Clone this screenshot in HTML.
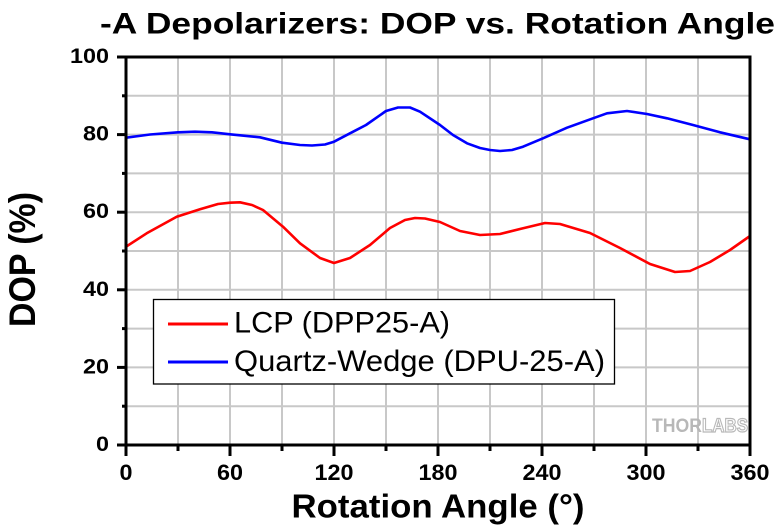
<!DOCTYPE html>
<html>
<head>
<meta charset="utf-8">
<style>
html,body{margin:0;padding:0;background:#fff;}
svg{display:block;}
text{font-family:"Liberation Sans",Arial,sans-serif;}
</style>
</head>
<body>
<svg width="780" height="528" viewBox="0 0 780 528" xmlns="http://www.w3.org/2000/svg">
<rect width="780" height="528" fill="#fff"/>
<!-- grid -->
<g stroke="#c8c8c8" stroke-width="2">
<line x1="178" y1="57" x2="178" y2="445"/>
<line x1="230" y1="57" x2="230" y2="445"/>
<line x1="282" y1="57" x2="282" y2="445"/>
<line x1="334" y1="57" x2="334" y2="445"/>
<line x1="386" y1="57" x2="386" y2="445"/>
<line x1="438" y1="57" x2="438" y2="445"/>
<line x1="490" y1="57" x2="490" y2="445"/>
<line x1="542" y1="57" x2="542" y2="445"/>
<line x1="594" y1="57" x2="594" y2="445"/>
<line x1="646" y1="57" x2="646" y2="445"/>
<line x1="698" y1="57" x2="698" y2="445"/>
<line x1="126" y1="95.8" x2="750" y2="95.8"/>
<line x1="126" y1="134.6" x2="750" y2="134.6"/>
<line x1="126" y1="173.4" x2="750" y2="173.4"/>
<line x1="126" y1="212.2" x2="750" y2="212.2"/>
<line x1="126" y1="251" x2="750" y2="251"/>
<line x1="126" y1="289.8" x2="750" y2="289.8"/>
<line x1="126" y1="328.6" x2="750" y2="328.6"/>
<line x1="126" y1="367.4" x2="750" y2="367.4"/>
<line x1="126" y1="406.2" x2="750" y2="406.2"/>
</g>
<!-- THORLABS logo -->
<text x="652" y="432" font-size="19" font-weight="bold" fill="#b8b8b8" textLength="50" lengthAdjust="spacingAndGlyphs">THOR</text>
<text x="702" y="432" font-size="19" font-weight="bold" fill="#fff" stroke="#b8b8b8" stroke-width="1.2" textLength="46" lengthAdjust="spacingAndGlyphs">LABS</text>
<!-- series -->
<polyline fill="none" stroke="#0000ff" stroke-width="2.6" stroke-linejoin="round" stroke-linecap="round"
points="126,137.7 150,134.5 178,132.3 195,131.7 212,132.3 230,134.3 260,137.3 282,142.7 300,145 312,145.5 325,144.5 334,141.7 350,133.3 366,125 386,111 398,107.5 410,107.5 420,111.7 440,125 453,135 467,143.3 480,148 490,150 500,151 512,150 523,146.7 543,138.3 567,127.7 593,118.3 607,113.3 627,111 647,114 667,118.3 693,125 720,132.3 750,139.3"/>
<polyline fill="none" stroke="#ff0000" stroke-width="2.6" stroke-linejoin="round" stroke-linecap="round"
points="126,246.7 146.7,233.3 176.7,216.7 200,209.3 218,204 230,202.7 240,202.3 252,205 263,210 283,226.7 300,243.3 320,258 334,263 350,258 370,245 390,228 405,220 415,218 425,218.5 440,222 460,231 480,235 500,234 520,229 545,223 560,224 590,233 620,248 650,264 675,272 690,271 710,262 730,250 750,236"/>
<!-- frame -->
<rect x="126" y="57" width="624" height="388" fill="none" stroke="#000" stroke-width="3"/>
<!-- y ticks -->
<g stroke="#000" stroke-width="3">
<line x1="117" y1="57" x2="126" y2="57"/>
<line x1="117" y1="134.6" x2="126" y2="134.6"/>
<line x1="117" y1="212.2" x2="126" y2="212.2"/>
<line x1="117" y1="289.8" x2="126" y2="289.8"/>
<line x1="117" y1="367.4" x2="126" y2="367.4"/>
<line x1="117" y1="445" x2="126" y2="445"/>
<line x1="122" y1="95.8" x2="126" y2="95.8"/>
<line x1="122" y1="173.4" x2="126" y2="173.4"/>
<line x1="122" y1="251" x2="126" y2="251"/>
<line x1="122" y1="328.6" x2="126" y2="328.6"/>
<line x1="122" y1="406.2" x2="126" y2="406.2"/>
<!-- x ticks -->
<line x1="126" y1="445" x2="126" y2="456"/>
<line x1="230" y1="445" x2="230" y2="456"/>
<line x1="334" y1="445" x2="334" y2="456"/>
<line x1="438" y1="445" x2="438" y2="456"/>
<line x1="542" y1="445" x2="542" y2="456"/>
<line x1="646" y1="445" x2="646" y2="456"/>
<line x1="750" y1="445" x2="750" y2="456"/>
<line x1="178" y1="445" x2="178" y2="451"/>
<line x1="282" y1="445" x2="282" y2="451"/>
<line x1="386" y1="445" x2="386" y2="451"/>
<line x1="490" y1="445" x2="490" y2="451"/>
<line x1="594" y1="445" x2="594" y2="451"/>
<line x1="698" y1="445" x2="698" y2="451"/>
</g>
<!-- y tick labels -->
<g font-size="21.5" font-weight="bold" fill="#000">
<text x="70" y="63" textLength="39" lengthAdjust="spacingAndGlyphs">100</text>
<text x="83" y="140.6" textLength="26" lengthAdjust="spacingAndGlyphs">80</text>
<text x="83" y="218.2" textLength="26" lengthAdjust="spacingAndGlyphs">60</text>
<text x="83" y="295.8" textLength="26" lengthAdjust="spacingAndGlyphs">40</text>
<text x="83" y="373.4" textLength="26" lengthAdjust="spacingAndGlyphs">20</text>
<text x="96" y="451" textLength="13" lengthAdjust="spacingAndGlyphs">0</text>
</g>
<!-- x tick labels -->
<g font-size="22" font-weight="bold" fill="#000">
<text x="119.5" y="480" textLength="13" lengthAdjust="spacingAndGlyphs">0</text>
<text x="217" y="480" textLength="26" lengthAdjust="spacingAndGlyphs">60</text>
<text x="314.5" y="480" textLength="39" lengthAdjust="spacingAndGlyphs">120</text>
<text x="418.5" y="480" textLength="39" lengthAdjust="spacingAndGlyphs">180</text>
<text x="522.5" y="480" textLength="39" lengthAdjust="spacingAndGlyphs">240</text>
<text x="626.5" y="480" textLength="39" lengthAdjust="spacingAndGlyphs">300</text>
<text x="730.5" y="480" textLength="39" lengthAdjust="spacingAndGlyphs">360</text>
</g>
<!-- title -->
<text x="100" y="33.3" font-size="30" font-weight="bold" fill="#000" textLength="675" lengthAdjust="spacingAndGlyphs">-A Depolarizers: DOP vs. Rotation Angle</text>
<!-- x axis label -->
<text x="291.5" y="517.3" font-size="33" font-weight="bold" fill="#000" textLength="293" lengthAdjust="spacingAndGlyphs">Rotation Angle (°)</text>
<!-- y axis label -->
<text transform="translate(35,327) scale(1.17,1) rotate(-90)" x="0" y="0" font-size="32" font-weight="bold" fill="#000" textLength="135" lengthAdjust="spacingAndGlyphs">DOP (%)</text>
<!-- legend -->
<rect x="153.5" y="299.5" width="461" height="84.5" fill="#fff" stroke="#000" stroke-width="1.3"/>
<line x1="168" y1="324" x2="228" y2="324" stroke="#ff0000" stroke-width="3"/>
<line x1="168" y1="362" x2="228" y2="362" stroke="#0000ff" stroke-width="3"/>
<text x="234" y="332.5" font-size="30" fill="#000" textLength="216" lengthAdjust="spacingAndGlyphs">LCP (DPP25-A)</text>
<text x="234" y="371" font-size="30" fill="#000" textLength="371" lengthAdjust="spacingAndGlyphs">Quartz-Wedge (DPU-25-A)</text>
</svg>
</body>
</html>
